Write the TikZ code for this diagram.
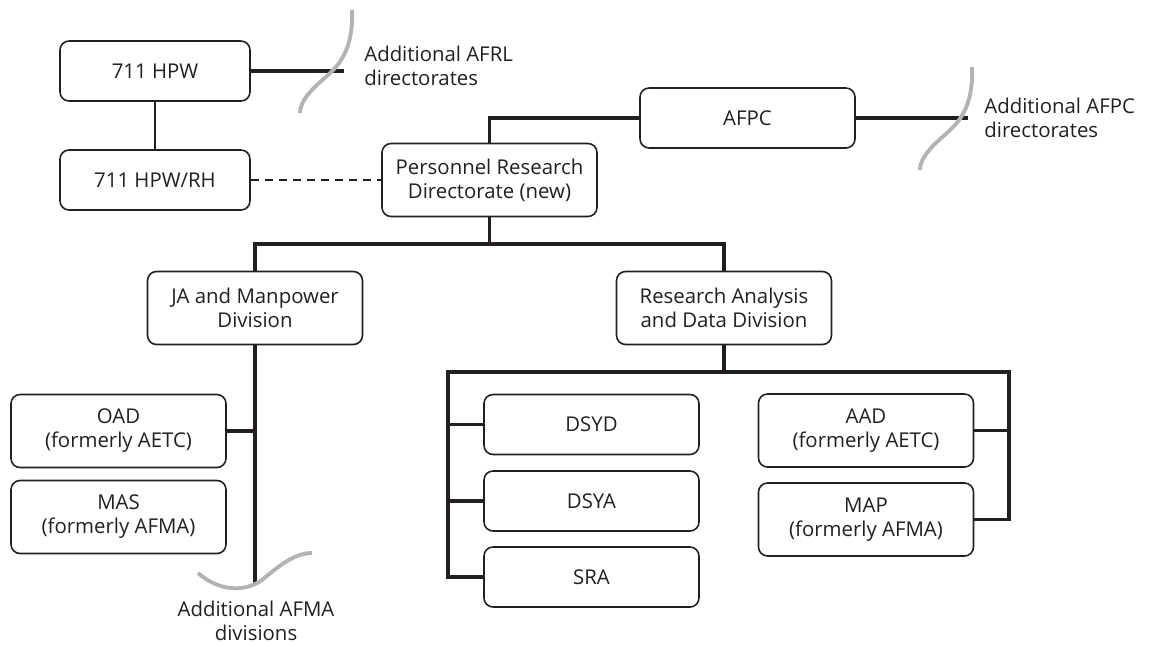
\documentclass[tikz,border=0pt]{standalone}
\usepackage{fontspec}
\setmainfont{Open Sans}
\usepackage{tikz}
\usetikzlibrary{positioning}
\definecolor{ink}{HTML}{231F20}
\definecolor{wavegray}{HTML}{B3B3B5}
\newcommand{\chartfont}{\fontsize{11.6}{13.7}\selectfont}

\begin{document}
\begin{tikzpicture}[x=0.02cm, y=-0.02cm, ink,
  box/.style={draw, rounded corners=0.18cm, minimum width=4.3cm, minimum height=1.2cm,
    align=center, inner sep=0pt, line width=0.9pt, font=\chartfont},
  tallbox/.style={box, minimum height=1.46cm},
  link/.style={line width=2.2pt},
  thinlink/.style={line width=1.1pt},
  wave/.style={line width=2.2pt, wavegray},
  note/.style={align=left, inner sep=0pt, font=\chartfont}]
\useasboundingbox (0,0) rectangle (1151,646);

\node[box, minimum width=3.8cm] (hpw) at (155,71) {711 HPW};
\node[box, minimum width=3.8cm] (hpwrh) at (155,180) {711 HPW/RH};
\node[box] (afpc) at (747.5,118) {AFPC};
\node[tallbox] (prd) at (489.5,180) {Personnel Research\\Directorate (new)};

\node[tallbox] (ja) at (255,308) {JA and Manpower\\Division};
\node[tallbox] (rad) at (724,308) {Research Analysis\\and Data Division};

\node[tallbox] (oad) at (118.5,431) {OAD\\(formerly AETC)};
\node[tallbox] (mas) at (118.5,517) {MAS\\(formerly AFMA)};

\node[box] (dsyd) at (591.5,424.5) {DSYD};
\node[box] (dsya) at (591.5,501) {DSYA};
\node[box] (sra) at (591.5,577) {SRA};
\node[tallbox] (aad) at (866,430.5) {AAD\\(formerly AETC)};
\node[tallbox] (map) at (866,519.5) {MAP\\(formerly AFMA)};

\node[note, anchor=west] (afrltext) at (364,66) {Additional AFRL\\directorates};
\node[note, anchor=west] (afpctext) at (984,118) {Additional AFPC\\directorates};
\node[note, align=center, anchor=north] (afmatext) at (256,601) {Additional AFMA\\divisions};

\coordinate (afrl) at (344,71);
\coordinate (afpcend) at (968,118);
\coordinate (afma) at (255,583);
\coordinate (split) at (489.5,244);
\coordinate (rsplit) at (724,372);
\coordinate (dleft) at (448,372);
\coordinate (dright) at (1009,372);

\draw[link] (hpw.east) -- (afrl);
\draw[thinlink] (hpw) -- (hpwrh);
\draw[thinlink, dash pattern=on 4.5pt off 3.5pt] (hpwrh.east) -- (prd.west);
\draw[link] (afpc.west) -| (prd.north);
\draw[link] (afpc.east) -- (afpcend);

\draw[link] (prd.south) -- (split);
\draw[link] (ja.north) |- (split) -| (rad.north);

\draw[link] (ja.south) -- (afma);
\draw[link] (oad.east) -- (oad.east -| afma);

\draw[link] (rad.south) -- (rsplit);
\draw[link] (sra.west) -| (dleft) -- (dright) |- (map.east);
\draw[link] (dsyd.west) -- (dsyd.west -| dleft);
\draw[link] (dsya.west) -- (dsya.west -| dleft);
\draw[link] (aad.east) -- (aad.east -| dright);

\draw[wave] (352,10) .. controls (354,60) and (330,72) .. (318,84) .. controls (305,96) and (300,105) .. (300,113);
\draw[wave] (972,67) .. controls (974,117) and (950,129) .. (938,141) .. controls (925,153) and (920,162) .. (920,170);
\draw[wave] (198,573) .. controls (220,592) and (245,592) .. (262,580) .. controls (280,565) and (295,553) .. (312,553);
\end{tikzpicture}
\end{document}
